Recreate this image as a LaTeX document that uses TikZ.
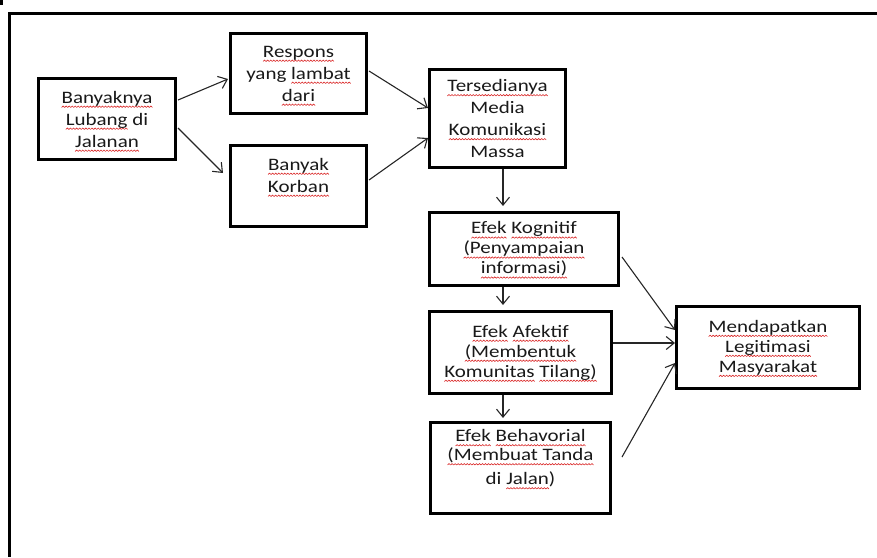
\documentclass[tikz,border=0pt]{standalone}
\usepackage{fontspec}
\setmainfont{Carlito}[FakeStretch=1.2]
\usetikzlibrary{arrows.meta,calc}
\newcommand\wavebit{\hbox to 3pt{\special{pdf:literal q 0.85 0.15 0.15 RG 0.6 w 0 -4.4 m 1.5 -3.0 l 3 -4.4 l S Q}\hss}}
\newcommand\sq[1]{\setbox0=\hbox{#1}\leavevmode\rlap{\hbox to\wd0{\xleaders\wavebit\hfill}}\box0\relax}
\tikzset{
  box/.style={draw=black,line width=3pt,align=center,inner sep=0pt,
    font=\fontsize{17.5}{22}\selectfont,text=black!90},
  arr/.style={draw=black!85,line width=1.1pt,-{Straight Barb[length=8pt,width=13pt]}},
  frame/.style={line width=3.5pt}
}
\begin{document}
\begin{tikzpicture}[x=1pt,y=-1pt]
\useasboundingbox (0,0) rectangle (877,557);
\fill (0,0) rectangle (2.5,5);
\draw[frame] (877,13.5) -- (9.5,13.5) -- (9.5,557);

\node[box,minimum width=137pt,minimum height=81pt] (ban) at (107,119)
  {\sq{Banyaknya}\\\sq{Lubang} di\\\sq{Jalanan}};
\node[box,minimum width=136pt,minimum height=80pt] (resp) at (298.5,73.5)
  {\sq{Respons}\\yang \sq{lambat}\\\sq{dari}};
\node[box,minimum width=136pt,minimum height=81pt] (korb) at (298.5,186)
  {\raisebox{5pt}[0pt][0pt]{\begin{tabular}{@{}c@{}}\sq{Banyak}\\\sq{Korban}\end{tabular}}};
\node[box,minimum width=136pt,minimum height=98pt] (ters) at (497.5,118.5)
  {\sq{Tersedianya}\\Media\\\sq{Komunikasi}\\Massa};
\node[box,minimum width=189pt,minimum height=73pt] (kog) at (524,249)
  {\sq{Efek} \sq{Kognitif}\\[-2pt]\sq{(Penyampaian}\\[-2pt]\sq{informasi)}};
\node[box,minimum width=182pt,minimum height=82pt] (afe) at (520.5,352.5)
  {\sq{Efek} \sq{Afektif}\\[-2pt]\sq{(Membentuk}\\[-2pt]\sq{Komunitas} \sq{Tilang)}};
\node[box,minimum width=180pt,minimum height=91pt] (beh) at (520.5,468)
  {\raisebox{5pt}[0pt][0pt]{\begin{tabular}{@{}c@{}}\sq{Efek} \sq{Behavorial}\\[-3pt]\sq{(Membuat Tanda}\\[2pt]di \sq{Jalan})\end{tabular}}};
\node[box,minimum width=183pt,minimum height=82pt] (mend) at (768,347.5)
  {\sq{Mendapatkan}\\[-2pt]\sq{Legitimasi}\\[-2pt]\sq{Masyarakat}};

\draw[arr] ($(ban.east)+(1,-19)$) -- ($(resp.west)+(-1,5.5)$);
\draw[arr] ($(ban.east)+(1,9)$) -- ($(korb.west)+(-6,-13)$);
\draw[arr] ($(resp.east)+(1,-2.5)$) -- ($(ters.west)+(0,-10.5)$);
\draw[arr] ($(korb.east)+(1,-6)$) -- ($(ters.west)+(0,19.5)$);
\draw[arr] ($(ters.south)+(5.5,0)$) -- ($(kog.north west)+(75,-5)$);
\draw[arr] ($(kog.south west)+(75,0)$) -- ($(afe.north west)+(75,-5)$);
\draw[arr] ($(afe.south west)+(75,0)$) -- ($(beh.north west)+(74,-3)$);
\draw[arr] ($(kog.east)+(2,8)$) -- ($(mend.west)+(0,-17.5)$);
\draw[arr] ($(afe.east)+(0,-9.5)$) -- ($(mend.west)+(0,-4.5)$);
\draw[arr] ($(beh.east)+(10,-11)$) -- ($(mend.west)+(0,15.5)$);
\end{tikzpicture}
\end{document}
